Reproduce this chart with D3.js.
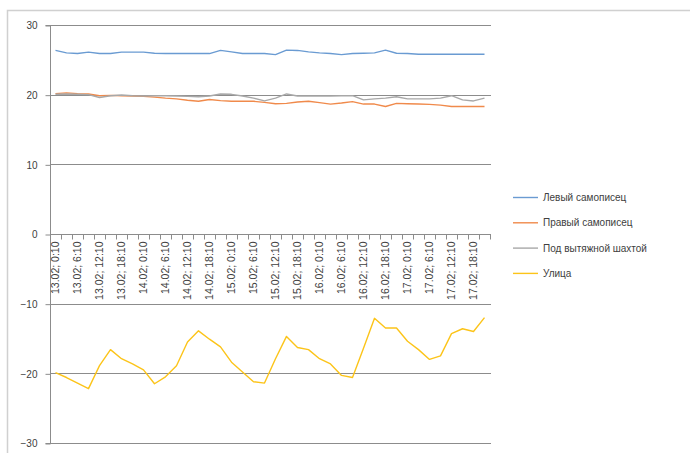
<!DOCTYPE html>
<html>
  <head>
    <meta charset="utf-8">
    <title>Температура</title>
    <style>
      body { margin: 0; background: #fff; }
      text { font-family: "Liberation Sans", "DejaVu Sans", sans-serif; fill: #404040; }
    </style>
  </head>
  <body>
    <script src="https://cdn.jsdelivr.net/npm/d3@7"></script>
    <script type="text/javascript">
      var days = ["13.02", "14.02", "15.02", "16.02", "17.02"];
      var hours = ["0:10", "3:10", "6:10", "9:10", "12:10", "15:10", "18:10", "21:10"];
      var categories = [];
      days.forEach(function(d) {
        hours.forEach(function(h) { categories.push(d + "; " + h); });
      });

      var seriesNames = ["Левый самописец", "Правый самописец", "Под вытяжной шахтой", "Улица"];
      var seriesColors = ["#6a9bd2", "#f08a4b", "#a8a8a8", "#fcc419"];

      var leftRecorder = [
        26.35, 26.0, 25.9, 26.1, 25.9, 25.9, 26.1, 26.1, 26.1, 25.95,
        25.9, 25.9, 25.9, 25.9, 25.9, 26.35, 26.15, 25.9, 25.9, 25.9,
        25.75, 26.4, 26.35, 26.15, 26.0, 25.9, 25.75, 25.9, 25.95, 26.0,
        26.4, 25.95, 25.9, 25.8, 25.8, 25.8, 25.8, 25.8, 25.8, 25.8
      ];
      var rightRecorder = [
        20.15, 20.25, 20.15, 20.1, 19.85, 19.9, 19.85, 19.8, 19.75, 19.65,
        19.5, 19.4, 19.2, 19.05, 19.3, 19.15, 19.05, 19.05, 19.05, 18.9,
        18.7, 18.75, 18.95, 19.05, 18.85, 18.65, 18.8, 19.0, 18.65, 18.65,
        18.3, 18.75, 18.7, 18.65, 18.6, 18.5, 18.3, 18.3, 18.3, 18.3
      ];
      var underShaft = [
        20.05, 20.1, 20.05, 20.0, 19.6, 19.85, 19.95, 19.85, 19.8, 19.85,
        19.85, 19.8, 19.75, 19.7, 19.8, 20.1, 20.05, 19.8, 19.5, 19.1,
        19.5, 20.1, 19.8, 19.8, 19.8, 19.8, 19.85, 19.85, 19.25, 19.4,
        19.5, 19.7, 19.4, 19.4, 19.4, 19.5, 19.85, 19.25, 19.1, 19.5
      ];
      var street = [
        -19.9, -20.6, -21.4, -22.2, -18.9, -16.6, -17.9, -18.65, -19.5, -21.5,
        -20.5, -18.9, -15.5, -13.9, -15.1, -16.2, -18.4, -19.8, -21.2, -21.4,
        -17.9, -14.7, -16.3, -16.6, -17.9, -18.65, -20.3, -20.6, -16.4, -12.1,
        -13.5, -13.5, -15.4, -16.6, -18.0, -17.5, -14.3, -13.6, -14.0, -12.0
      ];
      var yTicks = [30, 20, 10, 0, -10, -20, -30];

      var series = [leftRecorder, rightRecorder, underShaft, street];

      var width = 690, height = 453;
      var svg = d3.select("body").append("svg")
                  .attr("width", width)
                  .attr("height", height);

      // chart area border
      svg.append("path")
         .attr("d", "M7.5," + height + "V10.5H" + width)
         .attr("fill", "none")
         .attr("stroke", "#d0d0d0")
         .attr("stroke-width", 1.5);

      var x = d3.scaleBand().domain(categories).range([50, 490]);
      var y = d3.scaleLinear().domain([-30, 30]).range([443, 25]);

      var grid = "#8c8c8c";

      // gridlines
      svg.append("g").selectAll("line")
         .data(yTicks.filter(function(d) { return d !== 0; }))
         .enter().append("line")
         .attr("x1", 50).attr("x2", 491)
         .attr("y1", function(d) { return Math.round(y(d)) + 0.5; })
         .attr("y2", function(d) { return Math.round(y(d)) + 0.5; })
         .attr("stroke", grid);

      // y axis
      var yAxis = svg.append("g")
         .attr("transform", "translate(50.5,0.5)")
         .call(d3.axisLeft(y).tickValues(yTicks).tickSize(5).tickPadding(8));
      yAxis.select(".domain").attr("stroke", grid).attr("d", "M-5," + y(30) + "H0V" + y(-30) + "H-5");
      yAxis.selectAll(".tick line").attr("stroke", grid);
      yAxis.selectAll(".tick text")
           .style("font-size", "10px")
           .style("font-family", "Liberation Sans, sans-serif")
           .attr("fill", "#404040");

      // x axis at zero
      var xAxis = svg.append("g")
         .attr("transform", "translate(0," + (Math.round(y(0)) + 0.5) + ")");
      xAxis.append("line")
           .attr("x1", 50).attr("x2", 491)
           .attr("stroke", grid);
      xAxis.selectAll("line.tk")
           .data(categories.concat(["end"]))
           .enter().append("line")
           .attr("class", "tk")
           .attr("x1", function(d, i) { return Math.round(50 + i * x.bandwidth()) + 0.5; })
           .attr("x2", function(d, i) { return Math.round(50 + i * x.bandwidth()) + 0.5; })
           .attr("y1", 0).attr("y2", 5)
           .attr("stroke", grid);
      xAxis.selectAll("text")
           .data(categories.filter(function(d, i) { return i % 2 === 0; }))
           .enter().append("text")
           .attr("transform", function(d) {
             return "translate(" + (x(d) + x.bandwidth() / 2 + 3.5) + ",7) rotate(-90)";
           })
           .attr("text-anchor", "end")
           .style("font-size", "10.5px")
           .text(function(d) { return d; });

      // lines
      var line = d3.line()
                   .x(function(d, i) { return x(categories[i]) + x.bandwidth() / 2; })
                   .y(function(d) { return y(d); });

      svg.append("g").selectAll("path")
         .data(series)
         .enter().append("path")
         .attr("d", line)
         .attr("fill", "none")
         .attr("stroke", function(d, i) { return seriesColors[i]; })
         .attr("stroke-width", 1.4)
         .attr("stroke-linejoin", "round");

      // legend
      var legend = svg.append("g").selectAll("g")
         .data(seriesNames)
         .enter().append("g")
         .attr("transform", function(d, i) { return "translate(513," + (197.5 + i * 25.3) + ")"; });
      legend.append("line")
            .attr("x1", 0).attr("x2", 25)
            .attr("stroke", function(d, i) { return seriesColors[i]; })
            .attr("stroke-width", 1.4);
      legend.append("text")
            .attr("x", 30).attr("y", 3.5)
            .style("font-size", "10px")
            .text(function(d) { return d; });
    </script>
  </body>
</html>
